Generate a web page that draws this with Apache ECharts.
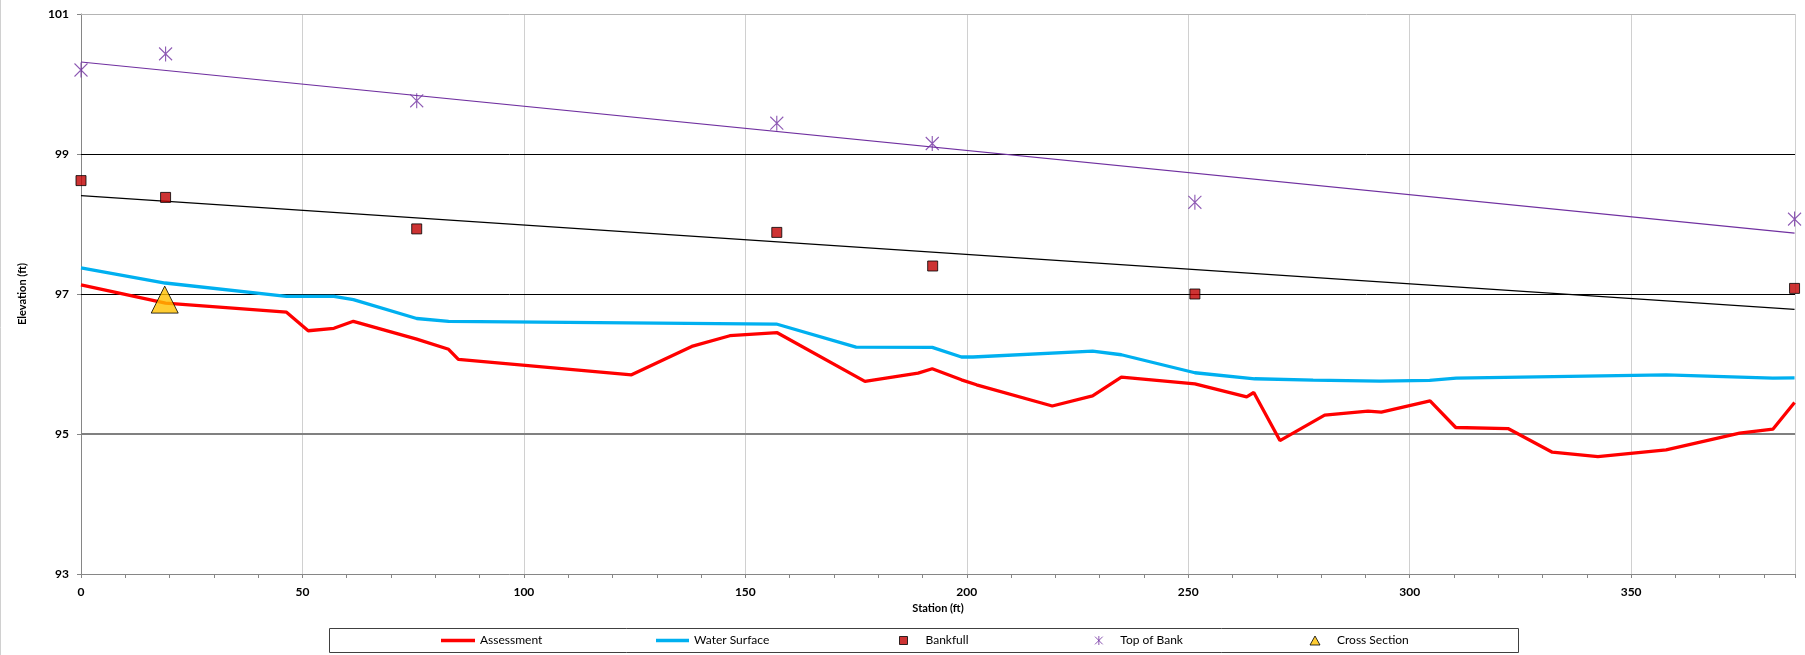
<!DOCTYPE html>
<html>
<head>
<meta charset="utf-8">
<script src="https://cdn.jsdelivr.net/npm/echarts@6/dist/echarts.min.js"></script>
<style>
  html, body { margin: 0; padding: 0; background: #ffffff; }
  #chart { width: 1805px; height: 655px; }
</style>
</head>
<body>
<div id="chart"></div>
<script>
// Longitudinal profile: elevation (ft) along station (ft)

// Thalweg survey (Assessment)
const assessmentStation = [0, 19.1, 46.4, 51.3, 57.1, 61.5, 75.8, 83.0, 85.2, 124.3, 137.9, 146.5, 157.2,
  177.0, 189.0, 192.2, 198.8, 202.2, 219.3, 228.4, 234.9, 251.5, 263.2, 264.8, 270.7, 280.8,
  290.6, 293.6, 304.6, 310.4, 322.2, 332.2, 342.5, 357.9, 374.5, 382.0, 386.9];
const assessmentElev = [97.13, 96.87, 96.74, 96.475, 96.51, 96.61, 96.356, 96.21, 96.065, 95.846, 96.251, 96.404, 96.447,
  95.751, 95.87, 95.932, 95.774, 95.703, 95.40, 95.546, 95.813, 95.717, 95.531, 95.593, 94.906, 95.269,
  95.326, 95.312, 95.474, 95.093, 95.078, 94.740, 94.678, 94.773, 95.011, 95.069, 95.45];

// Water surface
const waterStation = [0, 19.0, 46.4, 57.1, 61.5, 75.8, 83.0, 157.0, 175.0, 192.2, 198.8, 201.4, 228.4,
  234.9, 251.5, 265.0, 278.2, 293.3, 304.5, 310.5, 357.9, 382.0, 386.9];
const waterElev = [97.372, 97.157, 96.967, 96.967, 96.92, 96.65, 96.61, 96.571, 96.242, 96.237, 96.10, 96.10, 96.185,
  96.132, 95.875, 95.789, 95.770, 95.755, 95.765, 95.798, 95.846, 95.798, 95.803];

// Bankfull indicators
const bankfullStation = [0, 19.1, 75.8, 157.1, 192.3, 251.5, 386.9];
const bankfullElev = [98.62, 98.38, 97.93, 97.88, 97.40, 97.00, 97.08];

// Top of bank
const topBankStation = [0, 19.1, 75.8, 157.1, 192.2, 251.5, 386.9];
const topBankElev = [100.2, 100.43, 99.76, 99.44, 99.15, 98.31, 98.07];

// Cross section location
const crossSectionStation = [18.9];
const crossSectionElev = [96.92];

// Axis ticks
const xTickLabels = [0, 50, 100, 150, 200, 250, 300, 350];
const yTickLabels = [93, 95, 97, 99, 101];

const X_MAX = 387;
const FONT = 'Lato, "Open Sans", "Noto Sans", sans-serif';

function pairs(xs, ys) { return xs.map((x, i) => [x, ys[i]]); }

// Least-squares linear trend through a set of points, returned as its two end points
function linearTrend(xs, ys) {
  const n = xs.length;
  const mx = xs.reduce((a, b) => a + b, 0) / n;
  const my = ys.reduce((a, b) => a + b, 0) / n;
  let sxy = 0, sxx = 0;
  for (let i = 0; i < n; i++) { sxy += (xs[i] - mx) * (ys[i] - my); sxx += (xs[i] - mx) * (xs[i] - mx); }
  const slope = sxy / sxx, icpt = my - slope * mx;
  const x0 = Math.min(...xs), x1 = Math.max(...xs);
  return [[x0, icpt + slope * x0], [x1, icpt + slope * x1]];
}

// Horizontal gridline styles per elevation tick (93 is the axis itself)
const gridLineStyles = {
  95: { color: '#808080', width: 2 },
  97: { color: '#000000', width: 1 },
  99: { color: '#000000', width: 1 },
  101: { color: '#b4b4b4', width: 1 }
};

const legendText = { fontFamily: FONT, fontSize: 12, color: '#000', lineHeight: 14 };
function legendFor(item, left, w, h, extra) {
  return Object.assign({
    data: [item], left: left, top: 633.5, padding: 0, orient: 'horizontal',
    itemWidth: w, itemHeight: h,
    textStyle: Object.assign({}, legendText)
  }, extra || {});
}

const chart = echarts.init(document.getElementById('chart'), null, { renderer: 'canvas' });

const axisNameStyle = { fontFamily: FONT, fontSize: 11, fontWeight: 'bold', color: '#000' };

chart.setOption({
  animation: false,
  backgroundColor: '#ffffff',
  textStyle: { fontFamily: FONT },
  grid: { left: 81, right: 10, top: 14, bottom: 81, outerBoundsMode: 'none', containLabel: false },
  xAxis: [
    {
      // main station axis: labels every 50 ft and vertical gridlines
      type: 'value', min: 0, max: X_MAX, interval: 50,
      name: 'Station (ft)', nameLocation: 'middle', nameGap: 24, nameTextStyle: axisNameStyle,
      axisLine: { show: true, onZero: false, lineStyle: { color: '#868686', width: 1 } },
      axisTick: { show: false },
      axisLabel: { show: true, showMaxLabel: false, margin: 12,
        fontFamily: FONT, fontSize: 12, fontWeight: 'bold', color: '#000',
        formatter: v => (xTickLabels.indexOf(v) >= 0 ? String(v) : '') },
      splitLine: { show: true, lineStyle: { color: '#d0d0d0', width: 1 } }
    },
    {
      // tick marks every 10 ft along the bottom edge
      type: 'value', min: 0, max: X_MAX, interval: 10, position: 'bottom',
      axisLine: { show: false, onZero: false },
      axisTick: { show: true, inside: false, length: 4, lineStyle: { color: '#868686' } },
      axisLabel: { show: false },
      splitLine: { show: false }
    }
  ],
  yAxis: {
    type: 'value', min: 93, max: 101, interval: 2,
    name: 'Elevation (ft)', nameLocation: 'middle', nameGap: 53, nameRotate: 90, nameTextStyle: axisNameStyle,
    axisLine: { show: true, lineStyle: { color: '#868686', width: 1 } },
    axisTick: { show: true, inside: false, length: 4, lineStyle: { color: '#868686' } },
    axisLabel: { margin: 12, fontFamily: FONT, fontSize: 12, fontWeight: 'bold', color: '#000',
      formatter: v => (yTickLabels.indexOf(v) >= 0 ? String(v) : '') },
    splitLine: { show: false }
  },
  legend: [
    legendFor({ name: 'Assessment', icon: 'rect', itemStyle: { color: '#ff0000' } }, 441, 34, 3.5),
    legendFor({ name: 'Water Surface', icon: 'rect', itemStyle: { color: '#00b0f0' } }, 656, 33, 3.5),
    legendFor('Bankfull', 899, 8, 8, {
      itemStyle: { color: '#c00000', borderColor: '#000', borderWidth: 1 },
      textStyle: Object.assign({}, legendText, { padding: [0, 0, 0, 13] }) }),
    legendFor('Top of Bank', 1094.5, 8, 9, {
      itemStyle: { color: 'transparent', borderColor: '#7030a0', borderWidth: 1 },
      textStyle: Object.assign({}, legendText, { padding: [0, 0, 0, 12.5] }) }),
    legendFor('Cross Section', 1309.5, 10, 9, {
      itemStyle: { color: '#ffc000', borderColor: '#000', borderWidth: 1 },
      textStyle: Object.assign({}, legendText, { padding: [0, 0, 0, 12] }) })
  ],
  graphic: [
    { type: 'line', silent: true, shape: { x1: 0.5, y1: 0, x2: 0.5, y2: 655 },
      style: { stroke: '#d0d0d0', lineWidth: 1 } },
    { type: 'rect', silent: true, z: -1, shape: { x: 329.5, y: 628.5, width: 1189, height: 24 },
      style: { fill: 'none', stroke: '#404040', lineWidth: 1 } }
  ],
  series: [
    {
      name: 'Bankfull trend', type: 'line', data: linearTrend(bankfullStation, bankfullElev),
      symbol: 'none', silent: true, z: 3, lineStyle: { color: '#000000', width: 1.2 }
    },
    {
      name: 'Top of Bank trend', type: 'line', data: linearTrend(topBankStation, topBankElev),
      symbol: 'none', silent: true, z: 3, lineStyle: { color: '#7030a0', width: 1.2 }
    },
    {
      name: 'Water Surface', type: 'line', data: pairs(waterStation, waterElev),
      symbol: 'none', showSymbol: false, z: 4,
      lineStyle: { color: '#00b0f0', width: 3.3 }, itemStyle: { color: '#00b0f0' },
      markLine: {
        silent: true, symbol: 'none', z: 1, animation: false, label: { show: false },
        emphasis: { disabled: true },
        data: yTickLabels.filter(v => gridLineStyles[v]).map(v => ({
          yAxis: v, lineStyle: Object.assign({ type: 'solid' }, gridLineStyles[v])
        }))
      }
    },
    {
      name: 'Assessment', type: 'line', data: pairs(assessmentStation, assessmentElev),
      symbol: 'none', showSymbol: false, z: 5,
      lineStyle: { color: '#ff0000', width: 3.3 }, itemStyle: { color: '#ff0000' }
    },
    {
      name: 'Bankfull', type: 'scatter', data: pairs(bankfullStation, bankfullElev),
      symbol: 'rect', symbolSize: 10, clip: false, z: 6,
      itemStyle: { color: '#c00000', borderColor: '#000000', borderWidth: 1 }
    },
    {
      name: 'Top of Bank', type: 'scatter', data: pairs(topBankStation, topBankElev),
      symbol: 'path://M0,1L12,13M12,1L0,13M6,0L6,14', symbolSize: [13, 15], clip: false, z: 6,
      itemStyle: { color: 'transparent', borderColor: '#7030a0', borderWidth: 1.2 }
    },
    {
      name: 'Cross Section', type: 'scatter', data: pairs(crossSectionStation, crossSectionElev),
      symbol: 'triangle', symbolSize: [27, 27], clip: false, z: 7,
      itemStyle: { color: '#ffc000', borderColor: '#000000', borderWidth: 1 }
    }
  ]
});
</script>
</body>
</html>
